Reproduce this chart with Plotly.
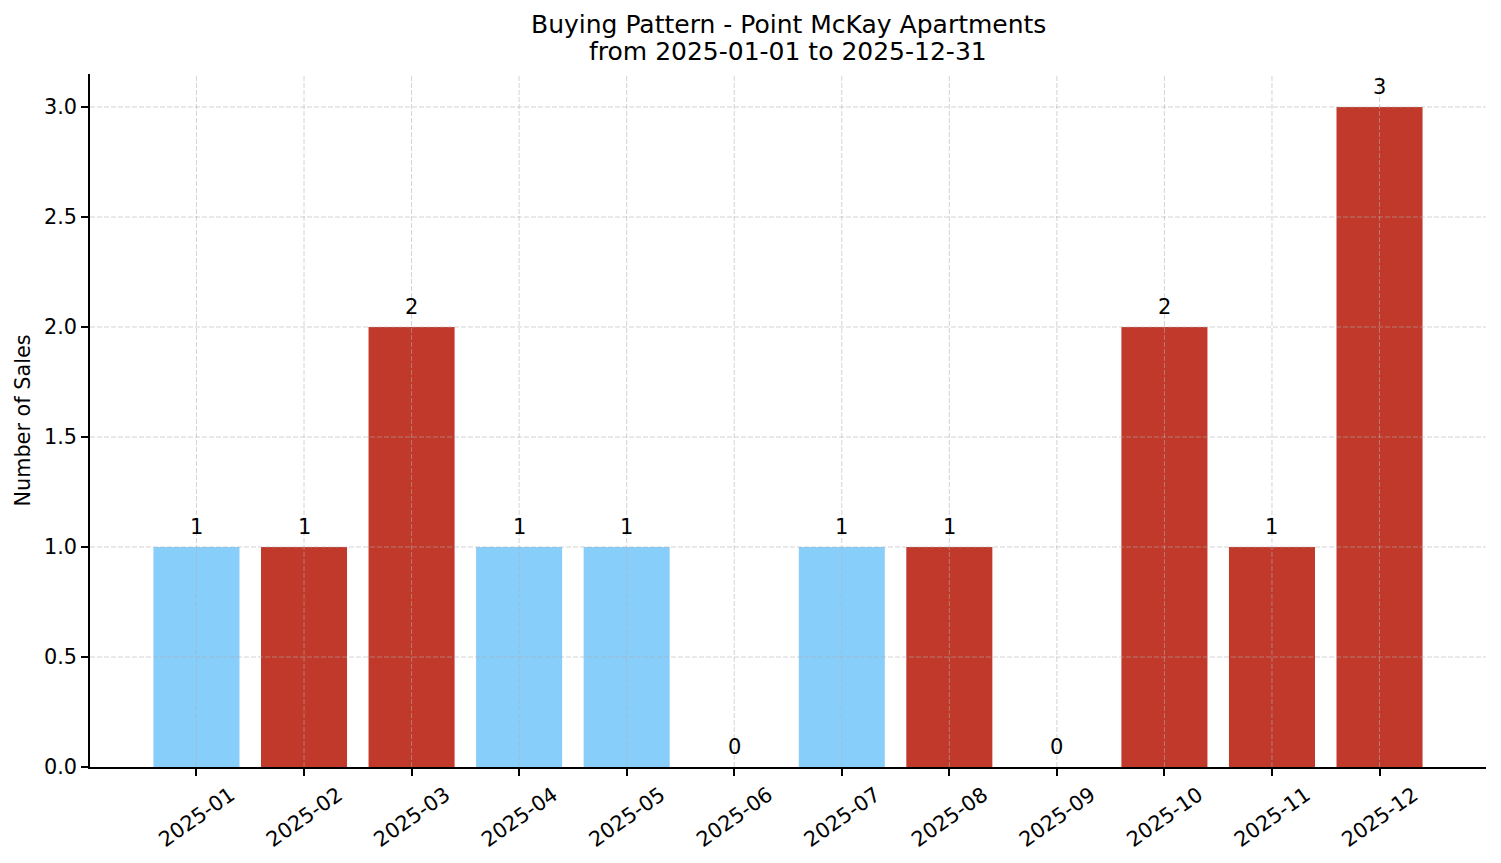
import plotly.graph_objects as go

# monthly sales counts
months = ["2025-01", "2025-02", "2025-03", "2025-04", "2025-05", "2025-06",
          "2025-07", "2025-08", "2025-09", "2025-10", "2025-11", "2025-12"]
sales = [1, 1, 2, 1, 1, 0, 1, 1, 0, 2, 1, 3]
# which colour group each bar falls in
groups = ["low", "high", "high", "low", "low", "low",
          "low", "high", "low", "high", "high", "high"]
y_ticks = [0.0, 0.5, 1.0, 1.5, 2.0, 2.5, 3.0]
title_lines = ["Buying Pattern - Point McKay Apartments",
               "from 2025-01-01 to 2025-12-31"]

FONT = "DejaVu Sans"
GROUP_COLORS = {"low": "#87CEFA", "high": "#C0392B"}
GRID = "rgba(176,176,176,0.55)"

fig = go.Figure()
fig.add_trace(go.Bar(
    x=months, y=sales, width=0.8,
    marker=dict(color=[GROUP_COLORS[g] for g in groups], line=dict(width=0)),
    hoverinfo="x+y", showlegend=False,
))

# value labels above each bar
for m, v in zip(months, sales):
    fig.add_annotation(x=m, y=v, text=str(v), showarrow=False,
                       yanchor="bottom", yshift=6,
                       font=dict(family=FONT, size=21, color="black"))

# two-line title, placed line by line (matplotlib spacing is tighter)
for line, shift in zip(title_lines, [33, 6]):
    fig.add_annotation(x=0.5, y=1, xref="paper", yref="paper", text=line,
                       showarrow=False, xanchor="center", yanchor="bottom",
                       yshift=shift, font=dict(family=FONT, size=25, color="black"))

# matplotlib draws the dashed grid over the bars, so use shapes on top
for m in months:
    fig.add_shape(type="line", xref="x", yref="y", x0=m, x1=m, y0=0, y1=3.15,
                  line=dict(color=GRID, width=1, dash="5px,2px"))
for t in y_ticks[1:]:
    fig.add_shape(type="line", xref="paper", yref="y", x0=0, x1=1, y0=t, y1=t,
                  line=dict(color=GRID, width=1, dash="5px,2px"))

fig.update_layout(
    width=1501, height=863,
    margin=dict(l=90, r=15, t=74, b=96),
    paper_bgcolor="white", plot_bgcolor="white",
    font=dict(family=FONT, size=20.8, color="black"),
    bargap=0.2,
)
fig.update_xaxes(
    type="category", range=[-0.99, 11.99], automargin=False,
    showgrid=False, zeroline=False,
    showline=True, linecolor="black", linewidth=1.5,
    ticks="outside", ticklen=7, tickwidth=1.5, tickcolor="black",
    tickangle=-35, ticklabelshift=34, ticklabelstandoff=-1,
    tickfont=dict(family=FONT, size=20.8, color="black"),
)
fig.update_yaxes(
    range=[0, 3.15], tickvals=y_ticks, tickformat=".1f", automargin=False,
    showgrid=False, zeroline=False,
    showline=True, linecolor="black", linewidth=1.5,
    ticks="outside", ticklen=7, tickwidth=1.5, tickcolor="black",
    tickfont=dict(family=FONT, size=20.8, color="black"),
    title=dict(text="Number of Sales", standoff=8,
               font=dict(family=FONT, size=20.8, color="black")),
)

# drop the default body margin so the figure sits at the window's corner
fig.write_html("out.html", config={"displayModeBar": False},
               post_script="document.body.style.margin='0';")
